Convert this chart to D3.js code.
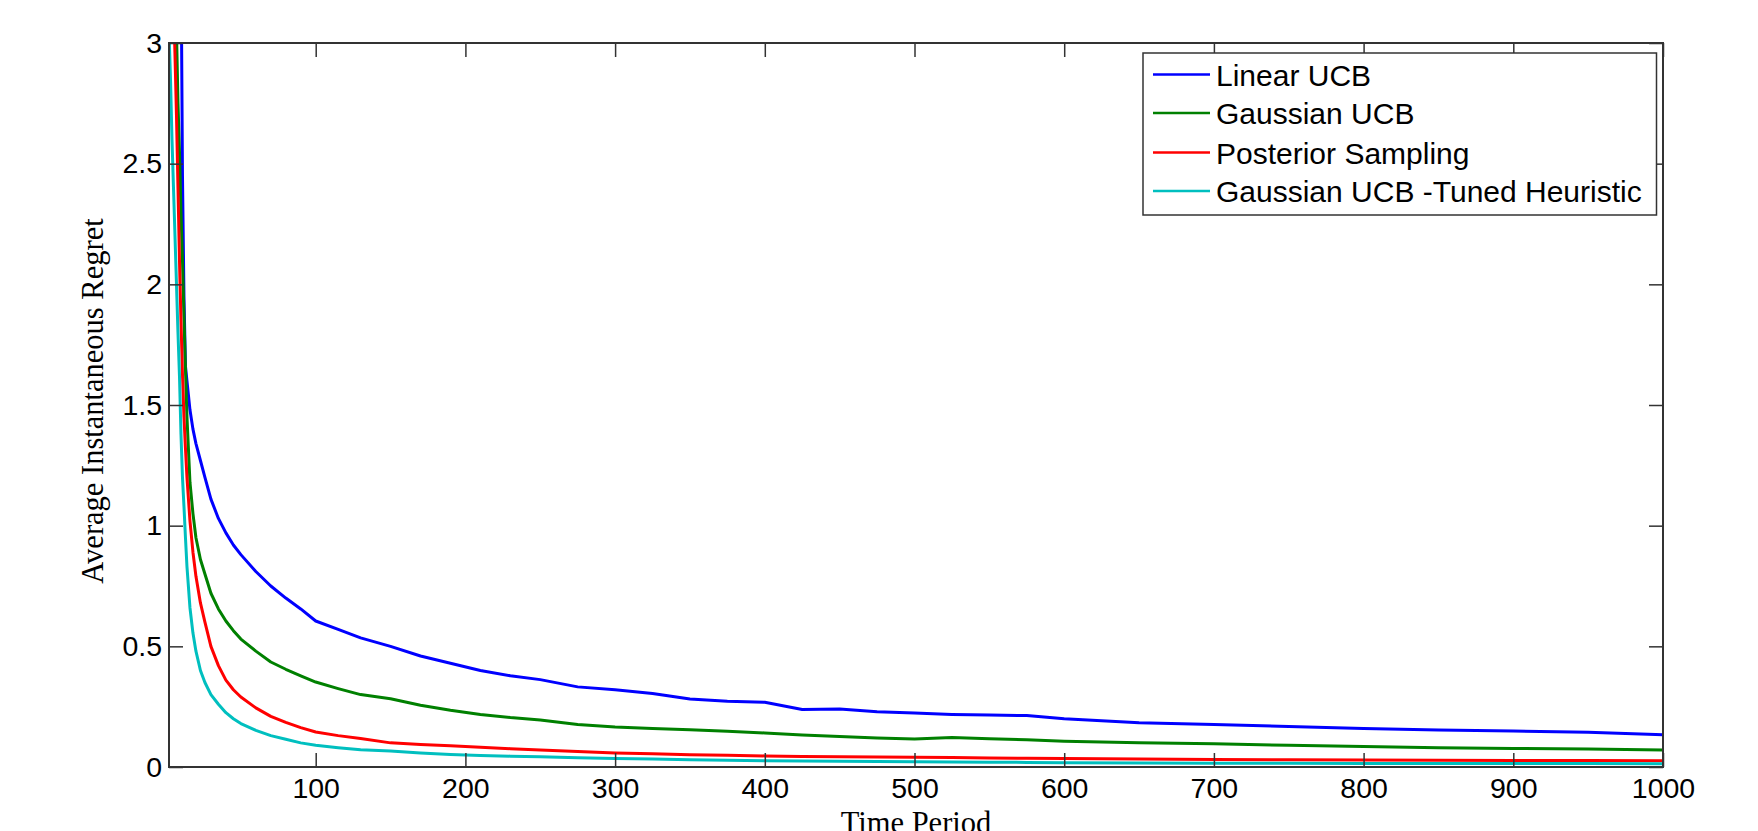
<!DOCTYPE html>
<html>
<head>
<meta charset="utf-8">
<script src="https://cdn.jsdelivr.net/npm/d3@7"></script>
<style>
  html, body { margin: 0; padding: 0; background: #fff; }
  svg { display: block; }
</style>
</head>
<body>
<svg id="chart" width="1758" height="831"></svg>
<script>
// ---- data ----
const timePoints = [2,3,4,5,6,7,8,9,10,11,12,13,14,16,18,20,23,26,30,35,40,45,50,60,70,80,90,100,115,130,150,170,190,210,230,250,275,300,325,350,375,400,425,450,475,500,525,550,575,600,650,700,750,800,850,900,950,1000];

const linearUCB = [6,5.5,5.2,4.9,4.6,4.3,4.0,3.7,3.4,2.45,1.95,1.66,1.6,1.48,1.4,1.34,1.27,1.2,1.11,1.03,0.97,0.92,0.88,0.81,0.75,0.7,0.655,0.605,0.57,0.535,0.5,0.46,0.43,0.4,0.378,0.362,0.332,0.32,0.305,0.282,0.272,0.268,0.238,0.24,0.229,0.224,0.218,0.215,0.213,0.2,0.183,0.176,0.168,0.16,0.153,0.149,0.144,0.134];

const gaussianUCB = [5.5,5.0,4.6,4.2,3.6,3.05,2.75,2.55,2.3,2.1,1.87,1.65,1.45,1.18,1.05,0.95,0.86,0.8,0.72,0.655,0.605,0.565,0.53,0.48,0.435,0.405,0.378,0.352,0.325,0.3,0.283,0.256,0.235,0.218,0.205,0.195,0.176,0.166,0.16,0.154,0.148,0.141,0.133,0.126,0.12,0.116,0.122,0.117,0.113,0.107,0.1,0.096,0.09,0.085,0.08,0.077,0.075,0.07];

const posteriorSampling = [4.5,4.0,3.6,3.2,2.95,2.7,2.4,2.1,1.85,1.63,1.45,1.32,1.2,1.02,0.89,0.79,0.68,0.6,0.5,0.42,0.36,0.32,0.29,0.245,0.21,0.185,0.163,0.145,0.13,0.118,0.1,0.093,0.088,0.082,0.076,0.07,0.064,0.058,0.055,0.051,0.049,0.046,0.044,0.042,0.041,0.04,0.039,0.037,0.036,0.035,0.033,0.031,0.03,0.029,0.028,0.027,0.027,0.026];

const gaussianTuned = [3.05,2.85,2.6,2.4,2.2,2.0,1.8,1.62,1.38,1.2,1.08,0.95,0.83,0.66,0.555,0.48,0.4,0.35,0.3,0.26,0.225,0.2,0.18,0.152,0.13,0.115,0.1,0.09,0.08,0.071,0.066,0.058,0.052,0.048,0.045,0.042,0.038,0.035,0.033,0.03,0.028,0.026,0.025,0.024,0.023,0.022,0.021,0.02,0.019,0.018,0.017,0.016,0.016,0.015,0.015,0.014,0.014,0.013];

const seriesNames = ["Linear UCB", "Gaussian UCB", "Posterior Sampling", "Gaussian UCB -Tuned Heuristic"];
const seriesColors = ["#0000ff", "#008000", "#ff0000", "#00bfbf"];
const seriesValues = [linearUCB, gaussianUCB, posteriorSampling, gaussianTuned];

const xTicks = [100,200,300,400,500,600,700,800,900,1000];
const yTicks = [0,0.5,1,1.5,2,2.5,3];
const xLabel = "Time Period";
const yLabel = "Average Instantaneous Regret";

// ---- layout ----
const L = 169, R = 1663, T = 43, B = 767;
const svg = d3.select("#chart");

const x = d3.scaleLinear().domain([2, 1000]).range([L, R]);
const y = d3.scaleLinear().domain([0, 3]).range([B, T]);

svg.append("defs").append("clipPath").attr("id", "plotclip")
  .append("rect").attr("x", L).attr("y", T).attr("width", R - L).attr("height", B - T);

// lines
const line = d3.line().x((d, i) => x(timePoints[i])).y(d => y(d));
const plot = svg.append("g").attr("clip-path", "url(#plotclip)");
seriesValues.forEach((vals, k) => {
  plot.append("path")
    .datum(vals)
    .attr("d", line)
    .attr("fill", "none")
    .attr("stroke", seriesColors[k])
    .attr("stroke-width", 3)
    .attr("stroke-linejoin", "round");
});

// axes
const axisColor = "#333";
const tickFont = "'Liberation Sans', Arial, sans-serif";

function styleAxis(g) {
  g.select(".domain").remove();
  g.selectAll(".tick line").attr("stroke", axisColor).attr("stroke-width", 1.5);
  g.selectAll(".tick text").attr("fill", "#000").style("font-family", tickFont).style("font-size", "28.5px");
}

svg.append("g").attr("transform", `translate(0,${B})`)
  .call(d3.axisBottom(x).tickValues(xTicks).tickSizeInner(-14).tickSizeOuter(0).tickPadding(11).tickFormat(d3.format("d")))
  .call(styleAxis);
svg.append("g").attr("transform", `translate(0,${T})`)
  .call(d3.axisTop(x).tickValues(xTicks).tickSizeInner(-14).tickSizeOuter(0).tickFormat(""))
  .call(styleAxis);
svg.append("g").attr("transform", `translate(${L},0)`)
  .call(d3.axisLeft(y).tickValues(yTicks).tickSizeInner(-14).tickSizeOuter(0).tickPadding(7).tickFormat(d3.format("~g")))
  .call(styleAxis);
svg.append("g").attr("transform", `translate(${R},0)`)
  .call(d3.axisRight(y).tickValues(yTicks).tickSizeInner(-14).tickSizeOuter(0).tickFormat(""))
  .call(styleAxis);

// box
svg.append("rect").attr("x", L).attr("y", T).attr("width", R - L).attr("height", B - T)
  .attr("fill", "none").attr("stroke", axisColor).attr("stroke-width", 2);

// axis labels
svg.append("text")
  .attr("x", (L + R) / 2).attr("y", 833)
  .attr("text-anchor", "middle")
  .style("font-family", "'Liberation Serif', 'Times New Roman', serif")
  .style("font-size", "30.5px")
  .text(xLabel);

svg.append("text")
  .attr("transform", `translate(103,401) rotate(-90)`)
  .attr("text-anchor", "middle")
  .style("font-family", "'Liberation Serif', 'Times New Roman', serif")
  .style("font-size", "30.5px")
  .text(yLabel);

// legend
const lg = svg.append("g");
lg.append("rect").attr("x", 1143).attr("y", 53).attr("width", 1656.5 - 1143).attr("height", 215 - 53)
  .attr("fill", "#fff").attr("stroke", axisColor).attr("stroke-width", 1.5);
const rowY = [74.5, 113, 152.5, 191];
seriesNames.forEach((name, k) => {
  lg.append("line").attr("x1", 1153).attr("x2", 1210).attr("y1", rowY[k]).attr("y2", rowY[k])
    .attr("stroke", seriesColors[k]).attr("stroke-width", 2.6);
  lg.append("text").attr("x", 1216).attr("y", rowY[k] + 11)
    .style("font-family", tickFont).style("font-size", "30px")
    .attr("fill", "#000")
    .text(name);
});
</script>
</body>
</html>
